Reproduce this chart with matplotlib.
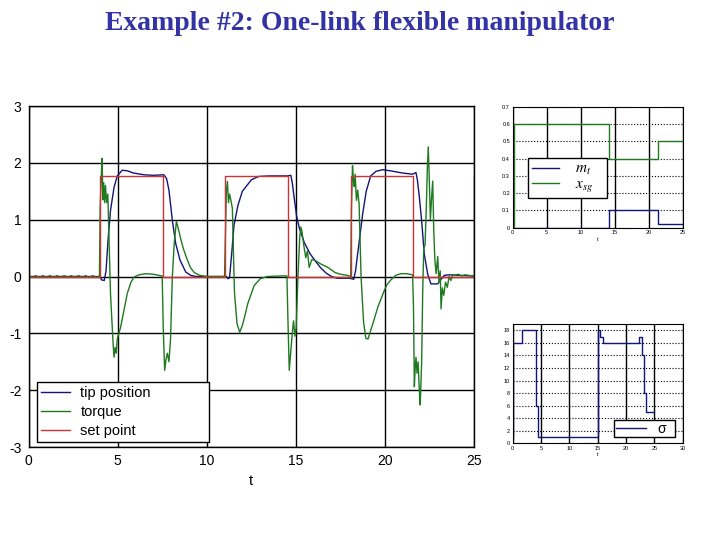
import numpy as np
import matplotlib
matplotlib.use("Agg")
import matplotlib.pyplot as plt

plt.rcParams["font.family"] = ["Liberation Sans", "DejaVu Sans"]
plt.rcParams["axes.unicode_minus"] = False
plt.rcParams["mathtext.fontset"] = "stix"

# ---- main plot data ----
setpoint_t = [0.0, 4.0, 7.55, 11.05, 14.55, 18.1, 21.6, 25.0]
setpoint_v = [0.0, 1.77, 0.0, 1.77, 0.0, 1.77, 0.0, 1.77]

tip_pts = [
    (0.0, 0.0), (4.0, 0.0), (4.1, -0.06), (4.25, -0.07), (4.35, 0.1), (4.46, 0.63),
    (4.6, 1.16), (4.8, 1.57), (4.98, 1.77), (5.26, 1.87), (5.54, 1.86), (5.9, 1.82),
    (6.48, 1.79), (7.0, 1.78), (7.6, 1.79), (7.75, 1.72), (7.88, 1.52), (8.07, 0.99),
    (8.26, 0.58), (8.5, 0.29), (8.82, 0.08), (9.1, 0.02), (9.4, 0.0), (11.1, 0.0),
    (11.2, -0.04), (11.28, -0.02), (11.4, 0.4), (11.53, 0.9), (11.75, 1.25), (12.0, 1.5),
    (12.5, 1.7), (12.9, 1.76), (13.5, 1.77), (14.5, 1.77), (14.72, 1.78), (14.8, 1.65),
    (14.9, 1.4), (15.05, 1.05), (15.2, 0.85), (15.47, 0.6), (15.8, 0.4), (16.1, 0.27),
    (16.4, 0.15), (16.7, 0.06), (17.0, 0.0), (17.3, -0.03), (18.0, -0.03), (18.15, -0.04),
    (18.25, -0.05), (18.35, 0.1), (18.55, 0.6), (18.75, 1.1), (18.95, 1.5), (19.2, 1.77),
    (19.5, 1.85), (19.87, 1.88), (20.3, 1.86), (21.0, 1.82), (21.55, 1.8), (21.74, 1.83),
    (21.82, 1.7), (21.93, 1.4), (22.06, 0.98), (22.21, 0.39), (22.4, 0.04), (22.58, -0.13),
    (22.96, -0.13), (23.15, -0.05), (23.33, 0.02), (23.6, 0.03), (24.2, 0.02), (25.0, 0.01),
]

torque_pts = [
    (0.0, 0.015), (0.2, -0.015), (0.4, 0.015), (0.6, -0.015), (0.8, 0.015), (1.0, -0.015),
    (1.2, 0.015), (1.4, -0.015), (1.6, 0.015), (1.8, -0.015), (2.0, 0.015), (2.2, -0.015),
    (2.4, 0.015), (2.6, -0.015), (2.8, 0.015), (3.0, -0.015), (3.2, 0.015), (3.4, -0.015),
    (3.6, 0.015), (3.8, -0.015), (3.98, 0.0),
    (4.02, 1.2), (4.08, 1.75), (4.13, 2.08), (4.17, 1.35), (4.22, 1.65), (4.27, 1.3),
    (4.32, 1.6), (4.38, 1.3), (4.45, 1.45), (4.52, 0.6), (4.6, -0.3), (4.68, -0.8),
    (4.75, -1.2), (4.8, -1.42), (4.86, -1.25), (4.92, -1.35), (4.98, -1.1), (5.17, -0.89),
    (5.35, -0.6), (5.54, -0.3), (5.75, -0.1), (5.92, -0.01), (6.2, 0.03), (6.6, 0.05),
    (7.0, 0.04), (7.3, 0.02), (7.5, 0.01),
    (7.56, -0.9), (7.64, -1.65), (7.72, -1.45), (7.79, -1.35), (7.88, -1.5), (7.97, -1.1),
    (8.07, 0.0), (8.18, 0.6), (8.3, 0.97), (8.4, 0.85), (8.55, 0.65), (8.7, 0.48),
    (8.9, 0.3), (9.1, 0.15), (9.3, 0.07), (9.6, 0.02), (10.0, 0.0), (11.0, 0.0),
    (11.06, 0.9), (11.1, 1.5), (11.16, 1.67), (11.22, 1.3), (11.28, 1.45), (11.35, 1.35),
    (11.44, 1.2), (11.5, 0.4), (11.56, -0.3), (11.7, -0.83), (11.85, -0.98), (12.0, -0.86),
    (12.15, -0.68), (12.3, -0.48), (12.5, -0.3), (12.66, -0.16), (13.0, -0.04), (13.4, 0.0),
    (14.2, 0.01), (14.5, 0.01),
    (14.56, -0.8), (14.63, -1.65), (14.72, -1.3), (14.8, -1.0), (14.87, -0.78), (14.95, -1.05),
    (15.02, -0.9), (15.12, 0.0), (15.22, 0.7), (15.28, 0.87), (15.34, 0.8), (15.47, 0.5),
    (15.56, 0.33), (15.65, 0.45), (15.75, 0.16), (15.9, 0.3), (16.1, 0.28), (16.4, 0.22),
    (16.8, 0.16), (17.2, 0.07), (17.5, 0.04), (17.9, 0.02), (18.08, 0.0),
    (18.12, 1.2), (18.18, 1.95), (18.23, 1.7), (18.28, 1.58), (18.33, 1.8), (18.4, 1.34),
    (18.47, 1.52), (18.55, 1.28), (18.66, 0.0), (18.8, -0.8), (18.93, -1.09), (19.05, -1.1),
    (19.2, -0.95), (19.4, -0.75), (19.6, -0.54), (19.8, -0.38), (19.96, -0.25), (20.1, -0.15),
    (20.3, -0.07), (20.6, 0.02), (20.9, 0.05), (21.2, 0.05), (21.55, 0.03),
    (21.6, -0.5), (21.65, -1.94), (21.7, -1.6), (21.74, -1.42), (21.8, -1.7), (21.86, -1.5),
    (21.93, -2.0), (21.98, -2.26), (22.06, -1.5), (22.12, -0.25), (22.18, 0.5), (22.25, 0.55),
    (22.32, 1.2), (22.38, 1.9), (22.43, 2.28), (22.48, 1.8), (22.55, 1.0), (22.62, 1.4),
    (22.68, 1.68), (22.74, 0.8), (22.8, 0.3), (22.87, 0.05), (22.96, 0.35), (23.03, -0.1),
    (23.1, 0.1), (23.15, -0.57), (23.22, -0.2), (23.3, -0.33), (23.4, -0.1), (23.5, -0.19),
    (23.6, 0.0), (23.7, -0.07), (23.8, 0.03), (23.9, 0.02), (24.1, 0.04), (24.3, 0.01),
    (24.5, 0.03), (24.7, 0.02), (25.0, 0.01),
]

main_yticks = [-3, -2, -1, 0, 1, 2, 3]
main_xticks = [0, 5, 10, 15, 20, 25]

# ---- top-right inset: m_t and x_sg ----
xsg_t = [0.0, 0.25, 14.2, 21.3, 25.0]
xsg_v = [0.0, 0.6, 0.4, 0.5, 0.5]
mt_t = [0.0, 14.2, 21.3, 25.0]
mt_v = [0.0, 0.1, 0.02, 0.02]
top_yticks = [0, 0.1, 0.2, 0.3, 0.4, 0.5, 0.6, 0.7]
top_ylabels = ["0", "0.1", "0.2", "0.3", "0.4", "0.5", "0.6", "0.7"]
top_xticks = [0, 5, 10, 15, 20, 25]

# ---- bottom-right inset: sigma ----
sig_t = [0.0, 0.1, 1.6, 4.1, 4.5, 15.0, 15.03, 15.35, 16.0, 22.3, 22.9, 23.2, 23.5, 25.0]
sig_v = [1, 16, 18, 6, 1, 9, 18, 17, 16, 17, 14, 8, 5, 5]
bot_yticks = [0, 2, 4, 6, 8, 10, 12, 14, 16, 18]
bot_xticks = [0, 5, 10, 15, 20, 25, 30]

BLUE = "#14147a"
GREEN = "#1f7a1f"
RED = "#cc3333"

fig = plt.figure(figsize=(7.2, 5.4), dpi=100)
fig.text(0.5, 0.956, "Example #2: One-link flexible manipulator", ha="center", va="center",
         fontsize=20, fontweight="bold", family=["Liberation Serif", "DejaVu Serif"], color="#3333a6")

# main axes
ax = fig.add_axes([0.0396, 0.1722, 0.6188, 0.6315])
tip = np.array(tip_pts)
tor = np.array(torque_pts)
ax.plot(tip[:, 0], tip[:, 1], color=BLUE, lw=1.0, label="tip position")
ax.plot(tor[:, 0], tor[:, 1], color=GREEN, lw=1.0, label="torque")
ax.plot(setpoint_t, setpoint_v, color=RED, lw=1.0, drawstyle="steps-post", label="set point")
ax.set_xlim(0, 25)
ax.set_ylim(-3, 3)
ax.set_xticks(main_xticks)
ax.set_yticks(main_yticks)
ax.tick_params(length=0, labelsize=10, pad=5)
ax.grid(True, color="k", lw=1.0, ls="-")
for s in ax.spines.values():
    s.set_color("k")
    s.set_linewidth(1.0)
ax.set_xlabel("t", fontsize=10.5, labelpad=4)
ax.legend(loc="lower left", bbox_to_anchor=(0.0184, 0.0147, 0.387, 0.18), mode="expand",
          borderaxespad=0, fancybox=False, edgecolor="k", framealpha=1, fontsize=10.5,
          handlelength=2.0, handletextpad=0.7, labelspacing=0.33, borderpad=0.3)

# top-right inset
ax1 = fig.add_axes([0.7121, 0.5783, 0.2361, 0.2241])
ax1.plot(mt_t, mt_v, color=BLUE, lw=1.0, drawstyle="steps-post", label="$m_t$")
ax1.plot(xsg_t, xsg_v, color=GREEN, lw=1.0, drawstyle="steps-post", label="$x_{sg}$")
ax1.set_xlim(0, 25)
ax1.set_ylim(0, 0.7)
ax1.set_xticks(top_xticks)
ax1.set_yticks(top_yticks)
ax1.set_yticklabels(top_ylabels)
ax1.tick_params(length=0, labelsize=4, pad=2)
ax1.xaxis.grid(True, color="k", lw=1.0, ls="-")
ax1.yaxis.grid(True, color="k", lw=0.8, ls=":")
ax1.set_xlabel("t", fontsize=4, labelpad=1)
ax1.legend(loc="lower left", bbox_to_anchor=(0.09, 0.245, 0.465, 0.29), mode="expand",
           borderaxespad=0, fancybox=False, edgecolor="k", framealpha=1, fontsize=11,
           handlelength=1.8, handletextpad=1.0, labelspacing=0.0, borderpad=0.25)

# bottom-right inset
ax2 = fig.add_axes([0.7121, 0.1791, 0.2361, 0.2209])
ax2.plot(sig_t, sig_v, color=BLUE, lw=1.0, drawstyle="steps-post", label="σ")
ax2.set_xlim(0, 30)
ax2.set_ylim(0, 19)
ax2.set_xticks(bot_xticks)
ax2.set_yticks(bot_yticks)
ax2.tick_params(length=0, labelsize=4, pad=2)
ax2.xaxis.grid(True, color="k", lw=1.0, ls="-")
ax2.yaxis.grid(True, color="k", lw=0.8, ls=":")
ax2.set_xlabel("t", fontsize=4, labelpad=1)
ax2.legend(loc="lower left", bbox_to_anchor=(0.598, 0.053, 0.357, 0.168), mode="expand",
           borderaxespad=0, fancybox=False, edgecolor="k", framealpha=1, fontsize=10,
           handlelength=2.2, handletextpad=0.8, borderpad=0.1)

fig.savefig("out.png", dpi=100)
